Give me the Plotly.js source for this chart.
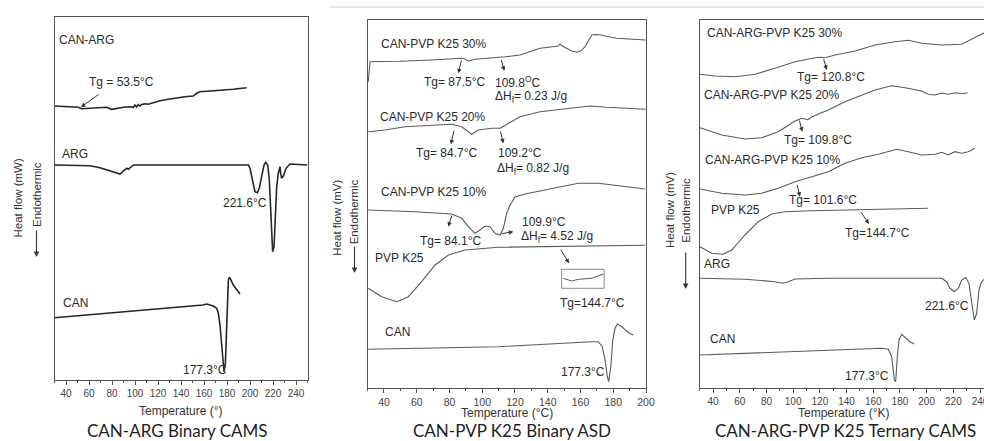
<!DOCTYPE html>
<html>
<head>
<meta charset="utf-8">
<script src="https://cdn.plot.ly/plotly-3.0.1.min.js"></script>
<style>
html, body { margin: 0; padding: 0; overflow: hidden; background: #fff; }
#chart { width: 1000px; height: 441px; }
</style>
</head>
<body>
<div id="chart"></div>
<script>
// ---------- Panel 1: CAN-ARG Binary CAMS (temperature °C, heat flow arbitrary units) ----------
const p1_canarg_T = [30, 40, 50.7, 53.6, 63.8, 75.4, 79.7, 84.1, 89.9, 95.7, 98.6, 100, 101.4, 102.9, 104.3, 105.8, 108.7, 111.6, 115.9, 121.7, 130.4, 139.1, 145, 150.7, 153.6, 156.5, 160, 165, 171, 178, 185.5, 191, 197.1];
const p1_canarg_y = [274, 273.3, 272.7, 271.3, 272.3, 272.7, 270.7, 271.7, 272.7, 273.3, 272.7, 275, 273, 275.5, 273.8, 275.5, 276.3, 275.7, 277.3, 279.3, 281, 282.7, 283.5, 284, 286.7, 288.3, 288.6, 289.2, 289, 290.2, 290.7, 291.5, 292.3];
const p1_arg_T = [30, 60.9, 69.6, 78.3, 84.1, 87, 89.3, 91.3, 92.8, 94.2, 95.7, 98.6, 150, 198.6, 200, 201.4, 202.9, 204.3, 206.4, 208.1, 210.1, 212.2, 213.6, 215.4, 216.8, 218, 218.8, 219.7, 220.9, 222, 223.2, 224.6, 225.5, 226.1, 226.7, 227.5, 229, 231.3, 234.8, 239.1, 250];
const p1_arg_y = [215, 214.3, 212.3, 209.3, 207.3, 206, 208.3, 210, 211.7, 210.7, 212.3, 215, 215, 215, 211.7, 205, 195, 188.3, 187.3, 191.7, 203.3, 215, 217.7, 215, 200, 173.3, 146.7, 128.3, 133.3, 160, 193.3, 206.7, 210, 213.3, 206.7, 201.7, 204, 211.7, 216, 215.7, 215];
const p1_can_T = [30, 100, 150, 159, 162.3, 168.1, 171, 172.5, 173.9, 175.1, 176.2, 177.4, 178.6, 179.4, 180.3, 181.2, 182, 183.2, 185.5, 188.4, 191.3];
const p1_can_y = [62.3, 69.3, 73.7, 75, 76, 74, 71.7, 66.7, 55, 36.7, 20, 8.3, 16.7, 46.7, 80, 100, 102.7, 100.7, 95, 90, 86];

// ---------- Panel 2: CAN-PVP K25 Binary ASD ----------
const p2_30_T = [30.4, 31.5, 38.6, 49.8, 69.1, 87.5, 89.5, 91.5, 95.6, 109.8, 113.9, 123.1, 135.3, 146.5, 147.5, 148.7, 151.6, 154.2, 157.7, 160.3, 162.8, 164.6, 166.9, 169.5, 172, 182.1, 199.8];
const p2_30_y = [306.6, 326.6, 326.8, 327, 328.3, 330, 329.3, 327.3, 329, 330.5, 331.5, 333.3, 340, 342.3, 344.3, 342.5, 340, 337.5, 336, 337.5, 341.6, 347, 353.3, 353.8, 353.3, 350, 348.3];
const p2_20_T = [30.4, 40.6, 52.8, 69.1, 81.4, 87.5, 93.6, 97.6, 105.8, 110.9, 115.9, 123.1, 135.3, 151.6, 165.8, 176, 199.8];
const p2_20_y = [256.6, 258.3, 261.6, 263.3, 264, 261.6, 254, 258.3, 260, 260, 265, 271.6, 276.6, 280, 282.3, 281, 279];
const p2_10_T = [30.4, 58.9, 81.4, 87.5, 91.5, 95.6, 98.6, 101.7, 104.7, 107.8, 110.9, 112.9, 114.9, 117, 120, 126.1, 138.3, 154.6, 158.7, 170.9, 183.1, 199.4];
const p2_10_y = [178.3, 176.6, 174.3, 170, 161.6, 155, 158.3, 162.3, 161.6, 155, 153.3, 160, 175, 183.3, 191.3, 194.3, 198.3, 203.3, 205, 205, 202.6, 199.3];
const p2_pvp_T = [30.4, 38.6, 47.8, 54.9, 63, 71.2, 79.3, 89.5, 109.8, 130.2, 150.6, 170.9, 199.4];
const p2_pvp_y = [100, 91.6, 86.6, 91.6, 106.6, 123.3, 133.3, 138.3, 141, 141.6, 141.6, 142.3, 143];
const p2_can_T = [30.4, 109.8, 166.9, 170.9, 173.3, 175, 176.4, 177.2, 178.5, 179.7, 181.1, 182.5, 185.2, 189.2, 192.3];
const p2_can_y = [39, 41.6, 46.6, 46.6, 41.6, 28.3, 11.6, 6.6, 21.6, 48.3, 60, 64.3, 61.6, 55.6, 53.3];
const p2_inset_T = [149.5, 154.6, 158.7, 166.9, 174];
const p2_inset_y = [110, 107.3, 109, 110, 114.3];

// ---------- Panel 3: CAN-ARG-PVP K25 Ternary CAMS ----------
const p3_30_T = [30.2, 41.5, 56.4, 71.4, 86.4, 101.4, 116.4, 120, 124, 131.4, 146.4, 161.4, 176.3, 186.3, 196.3, 211.3, 226.3, 233.7, 241.2, 246];
const p3_30_y = [313.4, 311.7, 311, 313.4, 319.4, 326, 330, 330.5, 330, 332.7, 336.7, 342.7, 346, 347.4, 344.4, 342.7, 343.4, 348.7, 354.4, 357];
const p3_20_T = [30.2, 46.5, 63.9, 76.4, 88.9, 101.4, 106.4, 111.1, 114.1, 126.3, 138.8, 151.3, 161.3, 173.8, 183.8, 196.3, 201.2, 206.3, 211.3, 216.2, 221.2, 226.3, 230.7];
const p3_20_y = [260, 252.7, 248.7, 250, 256, 266.7, 269.4, 268, 271, 277.7, 286, 292.7, 297.7, 302, 300, 296.7, 293.4, 292.7, 294.7, 293.4, 295, 294, 295];
const p3_10_T = [30.2, 46.5, 63.9, 76.4, 88.9, 101.4, 113.9, 126.3, 138.8, 151.3, 163.8, 177.6, 186.3, 196.3, 206.3, 211.3, 216.2, 221.2, 226.3, 231.2, 236.2];
const p3_10_y = [198.7, 194.4, 192.7, 194.4, 199.4, 206, 211, 216, 224.4, 230, 233.4, 238.4, 236, 232.7, 233.4, 235.4, 232.7, 236, 234.4, 236, 239.4];
const p3_pvp_T = [30.2, 39, 47.7, 54, 63.9, 73.9, 83.9, 93.9, 113.9, 138.8, 163.8, 201.2];
const p3_pvp_y = [141, 134.4, 133.4, 137.7, 152.7, 166, 173.7, 176, 177, 177.7, 178.4, 179.4];
const p3_arg_T = [30.2, 63.9, 86.4, 91.9, 96.4, 98.9, 101.4, 126.3, 211.3, 215, 217.5, 220.7, 223.7, 226.3, 229.3, 231.7, 233.7, 235.7, 237.5, 239.2, 240.7, 242.4, 250];
const p3_arg_y = [109.4, 108.4, 106, 104.4, 106, 107.7, 108.7, 109.4, 109.4, 106, 99.4, 96, 99.4, 107.7, 110.4, 104.4, 87.7, 67.7, 74.4, 97.7, 104.4, 107.7, 109];
const p3_can_T = [30.2, 166.3, 171.3, 173.8, 175.8, 176.8, 178, 179.3, 181.3, 183.8, 187.5, 190.7];
const p3_can_y = [32.7, 39.4, 38.4, 31, 7.7, 6, 31, 47.7, 53.4, 50.4, 46, 43.7];

// Tick labels / titles
const xTitles = ['Temperature (°)', 'Temperature (°C)', 'Temperature (°K)'];
const yTitles = ['Heat flow (mW)', 'Heat flow (mV)', 'Heat flow (mV)'];
const captions = ['CAN-ARG Binary CAMS', 'CAN-PVP K25 Binary ASD', 'CAN-ARG-PVP K25 Ternary CAMS'];

// ---------- build ----------
const FONT = 'Liberation Sans, Arial, sans-serif';
const W = 1000, H = 441;
const px = v => v / W;
const py = v => 1 - v / H;

function line(x, y, ax, color, width) {
  return { x: x, y: y, xaxis: 'x' + ax, yaxis: 'y' + ax, type: 'scatter', mode: 'lines',
           line: { color: color, width: width, shape: 'linear' }, hoverinfo: 'skip', showlegend: false };
}
const c1 = '#262626', c2 = '#5a5a5a';
const traces = [
  line(p1_canarg_T, p1_canarg_y, '', c1, 1.6),
  line(p1_arg_T, p1_arg_y, '', c1, 1.6),
  line(p1_can_T, p1_can_y, '', c1, 1.6),
  line(p2_30_T, p2_30_y, '2', c2, 1.1),
  line(p2_20_T, p2_20_y, '2', c2, 1.1),
  line(p2_10_T, p2_10_y, '2', c2, 1.1),
  line(p2_pvp_T, p2_pvp_y, '2', c2, 1.1),
  line(p2_can_T, p2_can_y, '2', c2, 1.1),
  line(p2_inset_T, p2_inset_y, '2', c2, 1),
  line(p3_30_T, p3_30_y, '3', c2, 1.1),
  line(p3_20_T, p3_20_y, '3', c2, 1.1),
  line(p3_10_T, p3_10_y, '3', c2, 1.1),
  line(p3_pvp_T, p3_pvp_y, '3', c2, 1.1),
  line(p3_arg_T, p3_arg_y, '3', c2, 1.1),
  line(p3_can_T, p3_can_y, '3', c2, 1.1)
];

function xax(domain, range, size) {
  return { domain: domain, range: range, showgrid: false, zeroline: false,
    showline: true, mirror: true, linecolor: '#555', linewidth: 1,
    ticks: 'outside', ticklen: 4, tickcolor: '#555', tickwidth: 1,
    tick0: 40, dtick: 20, tickfont: { family: FONT, size: size, color: '#444' },
    minor: { ticks: 'outside', ticklen: 2, dtick: 10, tick0: 30, tickcolor: '#555' } };
}
function yax(domain, range, anchor) {
  return { domain: domain, range: range, anchor: anchor, showgrid: false, zeroline: false,
    showline: true, mirror: true, linecolor: '#555', linewidth: 1, ticks: '', showticklabels: false };
}

const ann = [];
function lab(ax, x, y, text, color) {
  ann.push({ xref: 'x' + ax, yref: 'y' + ax, x: x, y: y, text: text, showarrow: false,
    xanchor: 'left', yanchor: 'middle', font: { family: FONT, size: 12, color: color || '#2a2a2a' } });
}
function arr(ax, hx, hy, tx, ty) {
  ann.push({ xref: 'x' + ax, yref: 'y' + ax, axref: 'x' + ax, ayref: 'y' + ax,
    x: hx, y: hy, ax: tx, ay: ty, text: '', showarrow: true,
    arrowhead: 2, arrowsize: 0.9, arrowwidth: 1, arrowcolor: '#333' });
}
// Panel 1
lab('', 32.5, 340, 'CAN-ARG');
lab('', 58, 298.3, 'Tg = 53.5°C');
arr('', 53, 272.7, 69.6, 286.7);
lab('', 34.8, 226, 'ARG');
lab('', 174.5, 177.3, '221.6°C');
lab('', 35.7, 76.7, 'CAN');
lab('', 140, 10, '177.3°C');
// Panel 2
lab('2', 37, 344, 'CAN-PVP K25 30%');
lab('2', 63, 306.6, 'Tg= 87.5°C');
lab('2', 106.8, 306.6, '109.8<sup>O</sup>C');
lab('2', 106.4, 291.6, 'ΔH<sub>f</sub>= 0.23 J/g');
arr('2', 85.4, 315, 87.5, 329.3);
arr('2', 113.5, 317.6, 111.3, 330);
lab('2', 36.5, 271.6, 'CAN-PVP K25 20%');
lab('2', 58.5, 235.6, 'Tg= 84.7°C');
lab('2', 108.4, 235.6, '109.2°C');
lab('2', 107.8, 219.3, 'ΔH<sub>f</sub>= 0.82 J/g');
arr('2', 80.9, 244, 82.9, 259);
arr('2', 112.9, 245, 110.9, 258.3);
lab('2', 37, 196.6, 'CAN-PVP K25 10%');
lab('2', 61, 147.3, 'Tg= 84.1°C');
lab('2', 123.1, 166.6, '109.9°C');
lab('2', 122.5, 151, 'ΔH<sub>f</sub>= 4.52 J/g');
arr('2', 79.3, 161.6, 81.7, 174.3);
arr('2', 119, 156.6, 110.9, 154.3);
lab('2', 33.5, 130, 'PVP K25');
arr('2', 153, 125, 147.5, 140);
lab('2', 146.5, 85, 'Tg=144.7°C');
lab('2', 39.6, 56.6, 'CAN');
lab('2', 146.9, 16, '177.3°C');
// Panel 3
lab('3', 34, 354.4, 'CAN-ARG-PVP K25 30%');
lab('3', 101.4, 311, 'Tg= 120.8°C');
arr('3', 125.1, 317.7, 122.6, 330);
lab('3', 32, 292.7, 'CAN-ARG-PVP K25 20%');
lab('3', 91.9, 247.7, 'Tg= 109.8°C');
arr('3', 106.9, 256, 104.4, 268.7);
lab('3', 32.7, 227.7, 'CAN-ARG-PVP K25 10%');
lab('3', 95.2, 187.7, 'Tg= 101.6°C');
arr('3', 105.1, 191, 102.7, 204.4);
lab('3', 37, 177.7, 'PVP K25');
lab('3', 137.6, 154.4, 'Tg=144.7°C');
arr('3', 156.8, 163.7, 150.1, 177);
lab('3', 31.5, 123.4, 'ARG');
lab('3', 197.5, 81.7, '221.6°C');
lab('3', 36, 48.4, 'CAN');
lab('3', 137.6, 12, '177.3°C');

// axis titles, y titles, captions (paper coords)
const xTitlePos = [[181, 410.5], [507, 412.5], [844, 413]];
const capPos = [[177, 430.5], [512, 430.5], [845, 430.5]];
const yTitlePos = [[17, 198.5], [336.7, 218], [670, 210]];
const endoPos = [[37, 195], [354.3, 212], [685.7, 210]];
const endoArrow = [[36.5, 257, 28], [354.5, 273, 28], [685.7, 289, 38]];
for (let i = 0; i < 3; i++) {
  ann.push({ xref: 'paper', yref: 'paper', x: px(xTitlePos[i][0]), y: py(xTitlePos[i][1]),
    text: xTitles[i], showarrow: false, xanchor: 'center', yanchor: 'middle',
    font: { family: FONT, size: 12, color: '#333' } });
  ann.push({ xref: 'paper', yref: 'paper', x: px(capPos[i][0]), y: py(capPos[i][1]),
    text: captions[i], showarrow: false, xanchor: 'center', yanchor: 'middle',
    font: { family: 'Lato, Open Sans, sans-serif', size: 17, color: '#1e1e1e' } });
  ann.push({ xref: 'paper', yref: 'paper', x: px(yTitlePos[i][0]), y: py(yTitlePos[i][1]),
    text: yTitles[i], showarrow: false, textangle: -90, xanchor: 'center', yanchor: 'middle',
    font: { family: FONT, size: 11.5, color: '#333' } });
  ann.push({ xref: 'paper', yref: 'paper', x: px(endoPos[i][0]), y: py(endoPos[i][1]),
    text: 'Endothermic', showarrow: false, textangle: -90, xanchor: 'center', yanchor: 'middle',
    font: { family: FONT, size: 11.5, color: '#333' } });
  ann.push({ xref: 'paper', yref: 'paper', x: px(endoArrow[i][0]), y: py(endoArrow[i][1]),
    ax: 0, ay: -endoArrow[i][2], text: '', showarrow: true, arrowhead: 2, arrowsize: 1,
    arrowwidth: 1.1, arrowcolor: '#333' });
}

const layout = {
  width: W, height: H, margin: { l: 0, r: 0, t: 0, b: 0 },
  paper_bgcolor: '#fff', plot_bgcolor: '#fff', showlegend: false,
  font: { family: FONT },
  xaxis: xax([px(54.5), px(307.5)], [30, 250], 10),
  yaxis: yax([py(380), py(16.7)], [0, 363.3], 'x'),
  xaxis2: Object.assign(xax([px(367.6), px(646)], [30, 200], 10.5), { anchor: 'y2' }),
  yaxis2: yax([py(388.3), py(20)], [0, 368.3], 'x2'),
  xaxis3: Object.assign(xax([px(699.7), px(993.4)], [30, 250], 10), { anchor: 'y3' }),
  yaxis3: yax([py(387.7), py(20)], [0, 367.7], 'x3'),
  annotations: ann,
  shapes: [
    { type: 'rect', xref: 'x2', yref: 'y2', x0: 148.5, x1: 174.4, y0: 100, y1: 119,
      line: { color: '#8a8a8a', width: 1 } },
    { type: 'line', xref: 'paper', yref: 'paper', x0: px(330), x1: 1, y0: py(7), y1: py(7),
      line: { color: '#e6e6e6', width: 2 } }
  ]
};
layout.xaxis.anchor = 'y';

Plotly.newPlot('chart', traces, layout, { staticPlot: true, displayModeBar: false });
</script>
</body>
</html>
